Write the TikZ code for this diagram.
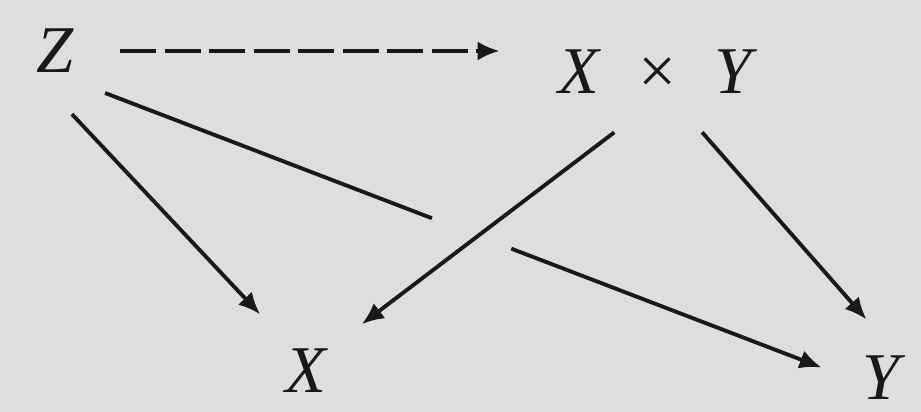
\documentclass[tikz,border=0pt]{standalone}
\usepackage{fontspec}
\setmainfont{Liberation Serif}
\usepackage{xcolor}
\usetikzlibrary{arrows.meta,positioning}
\definecolor{paper}{RGB}{222,222,220}
\definecolor{ink}{RGB}{25,25,25}

\begin{document}
\begin{tikzpicture}[
    obj/.style={circle, inner sep=0pt, minimum size=#1, text=ink, font=\fontsize{38}{40}\selectfont\itshape},
    obj/.default=2.6cm,
    arr/.style={-{Latex[length=4.4mm,width=3.8mm]}, line width=2.2pt, draw=ink},
]
\useasboundingbox[fill=paper] (0,0) rectangle (18.42,8.24);
% Objects
\node[obj] (z) at (1.10,7.22) {Z};
\node[obj, rectangle, minimum width=6.2cm, minimum height=2.4cm] (prod) at (13.10,6.80) {X\hspace{0.7cm}×\hspace{0.7cm}Y};
\node[obj=2.9cm] (x) at (6.12,0.82) {X};
\node[obj=2.4cm] (y) at (17.62,0.68) {Y};
% Arrows
\draw[arr, dash pattern=on 0.72cm off 0.17cm] (z.east) -- (z.east -| prod.west);
\draw[arr] (z.-75) -- (x.129);
\draw[arr, dash pattern=on 7.0cm off 1.7cm on 9cm] (z.-40) -- (y.170);
\draw[arr] (prod.-124) -- (x.40);
\draw[arr] (prod.-52) -- (y.104);
\end{tikzpicture}
\end{document}
